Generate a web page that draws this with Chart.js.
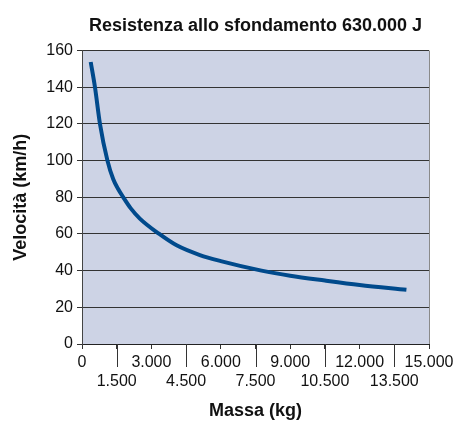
<!DOCTYPE html>
<html>
<head>
<meta charset="utf-8">
<script src="https://cdn.jsdelivr.net/npm/chart.js@4.4.1/dist/chart.umd.min.js"></script>
<style>
  body { margin: 0; background: #fff; }
  #wrap { width: 460px; height: 426px; }
</style>
</head>
<body>
<div id="wrap"><canvas id="myChart"></canvas></div>
<script>
// dati
const massa = [376, 561, 777, 1100, 1352, 1550, 1784, 2100, 2500, 3340, 4090, 5096, 6000, 7760, 9000, 10500, 12000, 14024];
const velocita = [153.8, 140, 120, 100, 89.8, 84.8, 80, 74.1, 68.4, 60, 53.8, 48.5, 45.2, 40, 37.2, 34.6, 32.2, 29.6];
const xTickLabels = ['0', '1.500', '3.000', '4.500', '6.000', '7.500', '9.000', '10.500', '12.000', '13.500', '15.000'];
const yTickLabels = ['0', '20', '40', '60', '80', '100', '120', '140', '160'];

const FONT = "'Liberation Sans', Arial, sans-serif";

// sfondo area del grafico + bordo destro + tacche lunghe
const plotBg = {
    id: 'plotBg',
    beforeDraw(chart) {
        const a = chart.chartArea, c = chart.ctx;
        c.save();
        c.fillStyle = '#cdd3e5';
        c.fillRect(a.left, a.top, a.right - a.left, a.bottom - a.top);
        c.restore();
    },
    afterDraw(chart) {
        const a = chart.chartArea, c = chart.ctx, sx = chart.scales.x;
        c.save();
        c.strokeStyle = '#8a8a8a';
        c.lineWidth = 1;
        c.beginPath();
        c.moveTo(Math.round(a.right) + 0.5, a.top);
        c.lineTo(Math.round(a.right) + 0.5, a.bottom);
        c.stroke();
        c.strokeStyle = '#333';
        for (let i = 1; i < xTickLabels.length; i += 2) {
            const px = Math.round(sx.getPixelForValue(i * 1500)) + 0.5;
            c.beginPath();
            c.moveTo(px, a.bottom);
            c.lineTo(px, a.bottom + 23);
            c.stroke();
        }
        c.restore();
    }
};

const ctx = document.getElementById('myChart').getContext('2d');

new Chart(ctx, {
    type: 'line',
    data: {
        datasets: [{
            data: massa.map((m, i) => ({ x: m, y: velocita[i] })),
            borderColor: '#004a8c',
            borderWidth: 4,
            pointRadius: 0,
            fill: false,
            cubicInterpolationMode: 'monotone'
        }]
    },
    options: {
        responsive: true,
        maintainAspectRatio: false,
        animation: false,
        layout: { padding: { left: 0, right: 31, top: 0, bottom: 0 } },
        plugins: {
            legend: { display: false },
            tooltip: { enabled: false },
            title: {
                display: true,
                fullSize: false,
                text: 'Resistenza allo sfondamento 630.000 J',
                color: '#111',
                font: { family: FONT, size: 18, weight: 'bold' },
                padding: { top: 15, bottom: 14 }
            }
        },
        scales: {
            x: {
                type: 'linear',
                min: 0,
                max: 15000,
                afterBuildTicks: (s) => { s.ticks = xTickLabels.map((t, i) => ({ value: i * 1500 })); },
                afterFit: (s) => { s.height = 82; },
                ticks: {
                    color: '#111',
                    autoSkip: false,
                    maxRotation: 0,
                    padding: 4,
                    font: { family: FONT, size: 16, lineHeight: 1.2 },
                    callback: (v, i) => (i % 2 ? ['', xTickLabels[i]] : xTickLabels[i])
                },
                grid: { drawOnChartArea: false, tickLength: 5, tickColor: '#333' },
                border: { color: '#222', width: 1 },
                title: {
                    display: true,
                    text: 'Massa (kg)',
                    color: '#111',
                    font: { family: FONT, size: 18, weight: 'bold' },
                    padding: { top: 4, bottom: 4 }
                }
            },
            y: {
                min: 0,
                max: 160,
                afterBuildTicks: (s) => { s.ticks = yTickLabels.map((t, i) => ({ value: i * 20 })); },
                afterFit: (s) => { s.width = 82; },
                ticks: {
                    color: '#111',
                    padding: 4,
                    font: { family: FONT, size: 16 },
                    callback: (v, i) => yTickLabels[i]
                },
                grid: { color: '#333', lineWidth: 1, tickLength: 5, tickColor: '#333' },
                border: { color: '#444', width: 1 },
                title: {
                    display: true,
                    text: 'Velocità (km/h)',
                    color: '#111',
                    font: { family: FONT, size: 18, weight: 'bold' },
                    padding: { top: 10, bottom: 0 }
                }
            }
        }
    },
    plugins: [plotBg]
});
</script>
</body>
</html>
